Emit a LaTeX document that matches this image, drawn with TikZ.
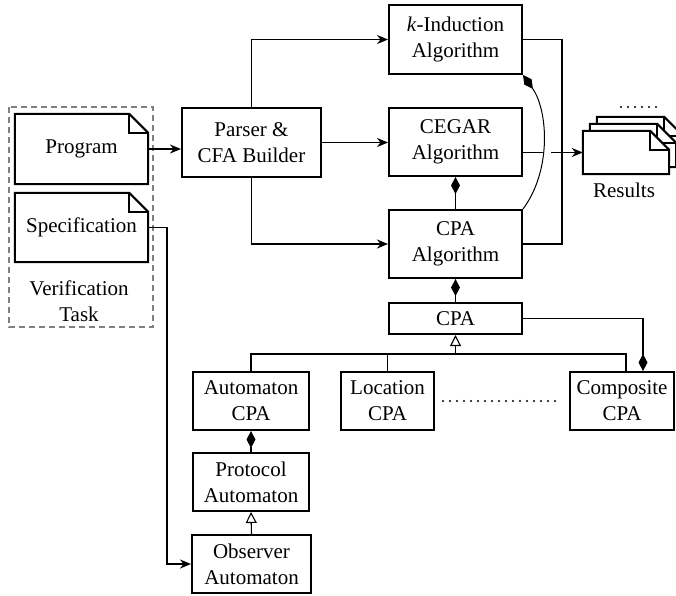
\documentclass[tikz,border=0pt]{standalone}
\usepackage{fontspec}
\setmainfont{Liberation Serif}
\usetikzlibrary{arrows.meta}

\newcommand{\labelfont}{\fontsize{21}{26}\selectfont}

% sheet of paper with a folded top-right corner, drawn around a node
\newcommand{\docpaper}[2][]{%
  \draw[docline,#1] (#2.south west) -- (#2.north west)
    -- ([xshift=-19pt]#2.north east) -- ([yshift=-19pt]#2.north east)
    -- (#2.south east) -- cycle;
  \draw[docline] ([xshift=-19pt]#2.north east) |- ([yshift=-19pt]#2.north east);}

\tikzset{
  box/.style={draw, line width=2pt, rectangle, inner sep=0pt, align=center, font=\labelfont},
  doc/.style={rectangle, inner sep=0pt, align=center, font=\labelfont},
  docline/.style={line width=2pt, line join=miter},
  flow/.style={line width=1.8pt, -{Stealth[length=11pt,width=9pt,inset=3.5pt]}},
  plain/.style={line width=1.8pt},
  uml/.style={line width=1.1pt},
  part/.style={uml, -{Diamond[length=17pt,width=9pt]}},
  isa/.style={uml, -{Triangle[length=11pt,width=11pt,fill=white]}},
  dots/.style={line width=2.2pt, line cap=round, dash pattern=on 0pt off 7pt},
}

\begin{document}
\begin{tikzpicture}[x=1pt, y=-1pt]
\useasboundingbox (0,0) rectangle (676,595);

% verification task group
\draw[gray, line width=1.6pt, dash pattern=on 6pt off 4pt] (9,107) rectangle (153,327);
\node[doc, minimum width=133pt, minimum height=70pt] (prog) at (81.5,149) {Program};
\node[doc, minimum width=133pt, minimum height=69pt] (spec) at (81.5,227.5) {Specification};
\docpaper{prog}
\docpaper{spec}
\node[doc] (task) at (79,301) {Verification\\Task};

% front end and algorithms
\node[box, minimum width=139pt, minimum height=69pt] (parser) at (251.5,142.5) {Parser \&\\CFA Builder};
\node[box, minimum width=133pt, minimum height=69pt] (kind) at (455.5,39.5) {\textit{k}-Induction\\Algorithm};
\node[box, minimum width=133pt, minimum height=68pt] (cegar) at (455.5,142) {CEGAR\\Algorithm};
\node[box, minimum width=133pt, minimum height=68pt] (cpaalg) at (455.5,244) {CPA\\Algorithm};
\node[box, minimum width=133pt, minimum height=31pt] (cpa) at (455.5,318.5) {CPA};

% CPA family
\node[box, minimum width=116pt, minimum height=58pt] (autcpa) at (251,401) {Automaton\\CPA};
\node[box, minimum width=93pt, minimum height=58pt] (loccpa) at (387.5,401) {Location\\CPA};
\node[box, minimum width=104pt, minimum height=58pt] (compcpa) at (622,401) {Composite\\CPA};
\node[box, minimum width=116pt, minimum height=58pt] (proto) at (251,482) {Protocol\\Automaton};
\node[box, minimum width=119pt, minimum height=58pt] (obs) at (251.5,564) {Observer\\Automaton};

% stack of result sheets
\node[doc, minimum width=86pt, minimum height=43pt] (res3) at (640,138.5) {};
\node[doc, minimum width=86pt, minimum height=43pt] (res2) at (633,145.5) {};
\node[doc, minimum width=86pt, minimum height=43pt] (res) at (626,152.5) {};
\docpaper[fill=white]{res3}
\docpaper[fill=white]{res2}
\docpaper[fill=white]{res}
\node[doc] (reslabel) at (624,190) {Results};
\coordinate (moreL) at (621,107);
\coordinate (moreR) at (657,107);
\draw[dots] (moreL) -- (moreR);

% data flow
\draw[flow] (prog.east) -- (prog.east -| parser.west);
\draw[flow] (parser.north) |- (kind.west);
\draw[flow] (parser.east) -- (parser.east -| cegar.west);
\draw[flow] (parser.south) |- (cpaalg.west);
\coordinate (bus) at (562,0);
\draw[plain] (kind.east) -- (kind.east -| bus) -- (cpaalg.east -| bus) -- (cpaalg.east);
\draw[flow] (res.west -| cegar.east) -- (res.west);
\draw[flow] (spec.east) -- ++(19,0) |- (obs.west);

% k-induction uses the CPA algorithm
\draw[draw=white, line width=8pt, shorten >=25pt, shorten <=25pt]
  (cpaalg.north east) .. controls (552,170) and (548,110) .. (kind.south east);
\draw[part, line width=1pt]
  (cpaalg.north east) .. controls (552,170) and (548,110) .. (kind.south east);

% composition and inheritance
\draw[part] (cpaalg.north) -- (cegar.south);
\draw[part] (cpa.north) -- (cpaalg.south);
\coordinate (hbar) at (0,354);
\draw[isa] (cpa.south |- hbar) -- (cpa.south);
\draw[uml] (autcpa.north) |- ([xshift=4pt]compcpa.north |- hbar) -- ([xshift=4pt]compcpa.north);
\draw[uml] (loccpa.north) -- (loccpa.north |- hbar);
\draw[part] (cpa.east) -| ([xshift=21pt]compcpa.north);
\draw[part] (proto.north) -- (autcpa.south);
\draw[isa] (obs.north) -- (proto.south);
\draw[dots] ([xshift=8pt]loccpa.east) -- ([xshift=-10pt]compcpa.west);
\end{tikzpicture}
\end{document}
